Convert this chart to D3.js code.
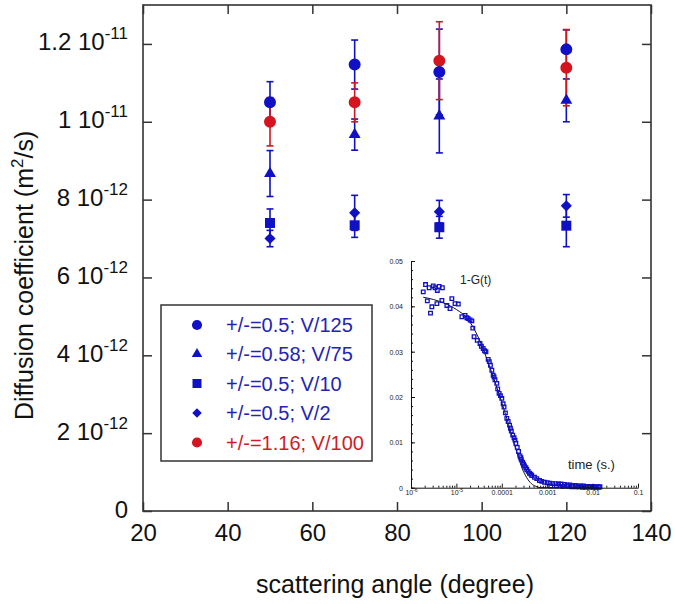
<!DOCTYPE html>
<html><head><meta charset="utf-8">
<script src="https://cdn.jsdelivr.net/npm/d3@7"></script>
<style>body{margin:0;background:#fff}svg{display:block;font-family:"Liberation Sans",Arial,sans-serif}</style>
</head><body><svg id="c" width="675" height="604"></svg>
<script>
// ---------------- data ----------------
const angles=[50,70,90,120];
// diffusion coefficients in units of 1e-12 m^2/s, with error half-widths
const d125=[10.50,11.47,11.28,11.86], e125=[0.53,0.63,1.10,0.50];
const d75=[8.67,9.67,10.15,10.55],   e75=[0.59,0.40,0.95,0.55];
const d10=[7.40,7.34,7.29,7.33],     e10=[0.36,0.31,0.28,0.54];
const d2=[7.00,7.66,7.69,7.84],      e2=[0.21,0.45,0.29,0.29];
const d100=[10.00,10.50,11.57,11.39],e100=[0.62,0.50,1.00,0.98];
const seriesNames=["+/-=0.5; V/125","+/-=0.58; V/75","+/-=0.5; V/10","+/-=0.5; V/2","+/-=1.16; V/100"];
const xTicks=[20,40,60,80,100,120,140];
const yTicks=[0,2,4,6,8,10,12];
const yTickMant=["0","2","4","6","8","1","1.2"];
const yTickExp=["","-12","-12","-12","-12","-11","-11"];

// inset: 1-G(t) correlation data (time in s)
const insetT=[1.86e-6,2.09e-6,2.29e-6,2.51e-6,2.69e-6,2.88e-6,3.09e-6,3.39e-6,3.72e-6,3.80e-6,4.17e-6,4.79e-6,4.90e-6,
6.17e-6,7.24e-6,7.94e-6,9.33e-6,1.10e-5,1.32e-5,1.55e-5,1.82e-5,2.19e-5,2.45e-5,2.88e-5,3.31e-5,3.89e-5,4.47e-5,
5.01e-5,5.62e-5,6.03e-5,6.46e-5,7.08e-5,7.76e-5,8.71e-5,1.00e-4,1.07e-4,1.12e-4,1.20e-4,1.29e-4,1.48e-4,1.62e-4,
1.74e-4,1.95e-4,2.19e-4,2.34e-4,2.51e-4,2.69e-4,2.88e-4,3.16e-4,3.55e-4,4.07e-4,4.57e-4,5.25e-4,5.89e-4,6.76e-4,
7.59e-4,8.71e-4,1.00e-3,1.15e-3,1.32e-3,1.55e-3,1.78e-3,2.04e-3,2.40e-3,2.75e-3,3.16e-3,3.63e-3,4.17e-3,4.79e-3,
5.50e-3,6.31e-3,7.24e-3,8.32e-3,9.55e-3,1.10e-2,1.26e-2,1.45e-2,
1.20e-3,1.60e-3,2.20e-3,2.90e-3,3.50e-3,4.40e-3,5.00e-3,6.00e-3,7.00e-3,8.80e-3,1.05e-2,1.20e-2,1.38e-2,
3.55e-5,4.17e-5,5.30e-5,6.76e-5,8.13e-5,9.33e-5,1.38e-4,1.55e-4,1.86e-4,2.04e-4,2.63e-4,3.02e-4,3.39e-4,3.80e-4,4.37e-4,
1.70e-5,2.00e-5,2.30e-5];
const insetV=[.0432,.0448,.0412,.0441,.0385,.0399,.0445,.0441,.0406,.0435,.0444,.0413,.0441,
.0402,.0395,.0417,.0406,.0405,.0377,.0380,.0373,.0368,.0333,.0325,.0318,.0307,.0300,
.0283,.0270,.0259,.0248,.0238,.0230,.0208,.0197,.0185,.0178,.0165,.0153,.0138,.0125,
.0116,.0105,.0089,.0080,.0070,.0062,.0056,.0048,.0040,.0032,.0027,.0023,.0020,.0016,
.0014,.0012,.0011,.0010,.0009,.0009,.0008,.0008,.0007,.0006,.0006,.0005,.0005,.0004,
.0004,.0004,.0003,.0003,.0003,.0002,.0002,.0002,
.0004,.0004,.0003,.0003,.0002,.0002,.0002,.0001,.0001,.0001,.0001,.0001,.0001,
.0312,.0302,.0278,.0244,.0218,.0203,.0146,.0131,.0110,.0098,.0066,.0052,.0044,.0036,.0030,
.0375,.0370,.0352];
// fitted curve
const fitT=[1.86e-6,3.16e-6,5.62e-6,1.0e-5,1.78e-5,3.16e-5,5.62e-5,1.0e-4,1.41e-4,1.78e-4,2.24e-4,2.82e-4,3.55e-4,4.47e-4,5.62e-4,7.08e-4,1.45e-2];
const fitV=[.0420,.0415,.0406,.0393,.0372,.0328,.0262,.0188,.0140,.0105,.0072,.0042,.0022,.0009,.0003,.0000,.0000];
const insetYTicks=[0,0.01,0.02,0.03,0.04,0.05];
const insetYLabels=["0","0.01","0.02","0.03","0.04","0.05"];
const insetXTicks=[1e-6,1e-5,1e-4,1e-3,1e-2,1e-1];
const insetXMant=["10","10","0.0001","0.001","0.01","0.1"];
const insetXExp=["-6","-5","","","",""];

// ---------------- drawing ----------------
const BLUE="#1010c4", RED="#d4141e", AX="#333";
const svg=d3.select("#c");
const L=143,R=651,T=5,B=511;
const x=d3.scaleLinear([20,140],[L,R]);
const y=d3.scaleLinear([0,13],[B,T]);

const series=[
  {v:d125,e:e125,name:seriesNames[0],color:BLUE,sym:d3.symbolCircle,size:113,lsize:80,rot:0},
  {v:d75,e:e75,name:seriesNames[1],color:BLUE,sym:d3.symbolTriangle,size:62,lsize:48,rot:0},
  {v:d10,e:e10,name:seriesNames[2],color:BLUE,sym:d3.symbolSquare,size:100,lsize:81,rot:0},
  {v:d2,e:e2,name:seriesNames[3],color:BLUE,sym:d3.symbolSquare,size:62,lsize:45,rot:45},
  {v:d100,e:e100,name:seriesNames[4],color:RED,sym:d3.symbolCircle,size:113,lsize:80,rot:0}
];

// inset first (under main frame)
const xi=d3.scaleLog([1e-6,0.1],[411,638]);
const yi=d3.scaleLinear([0,0.05],[487.7,261]);
const gi=svg.append("g");
const fit=d3.line().x((d,i)=>xi(fitT[i])).y((d,i)=>yi(fitV[i])).curve(d3.curveMonotoneX);
gi.append("path").attr("d",fit(fitT)).attr("fill","none").attr("stroke","#111").attr("stroke-width",1);
gi.selectAll("path.pt").data(insetT).join("path").attr("class","pt")
  .attr("transform",(d,i)=>`translate(${xi(d)},${yi(insetV[i])})`)
  .attr("d",d3.symbol(d3.symbolSquare,13)).attr("fill","none").attr("stroke",BLUE).attr("stroke-width",1.3);
// inset axes
const iyAx=gi.append("g").attr("transform","translate(411,0)")
  .call(d3.axisLeft(yi).tickValues(insetYTicks).tickSizeInner(-4).tickSizeOuter(0).tickPadding(8).tickFormat((d,i)=>insetYLabels[i]));
iyAx.append("g").call(d3.axisLeft(yi).tickValues(d3.range(0,0.0501,0.002)).tickSizeInner(-2).tickSizeOuter(0).tickFormat(""))
  .select(".domain").remove();
const ixAx=gi.append("g").attr("transform","translate(0,487.7)")
  .call(d3.axisBottom(xi).tickValues(insetXTicks).tickSizeInner(-4).tickSizeOuter(0).tickPadding(7).tickFormat(""));
ixAx.append("g").call(d3.axisBottom(xi).tickValues(xi.ticks().filter(t=>Math.abs(Math.log10(t)-Math.round(Math.log10(t)))>1e-6)).tickSizeInner(-2).tickSizeOuter(0).tickFormat(""))
  .select(".domain").remove();
[iyAx,ixAx].forEach(g=>{g.selectAll(".domain,line").attr("stroke","#111").attr("stroke-width",1);});
iyAx.selectAll(".tick text").attr("font-size",7).attr("dy",2.5).attr("x",-8).attr("fill","#222").attr("font-family","Liberation Sans, Arial");
ixAx.selectAll(".tick").append("text").attr("y",7.5).attr("text-anchor","middle").attr("font-size",7).attr("fill","#222")
  .each(function(d,i){const t=d3.select(this);t.append("tspan").text(insetXMant[i]);
    if(insetXExp[i]) t.append("tspan").attr("dy",-3).attr("font-size",5).text(insetXExp[i]);});
gi.append("text").attr("x",460).attr("y",284).attr("font-size",12).attr("fill","#222").text("1-G(t)");
gi.append("text").attr("x",568).attr("y",469).attr("font-size",13).attr("fill","#222").text("time (s.)");

// main frame & axes
const gx=svg.append("g").attr("transform",`translate(0,${B})`)
  .call(d3.axisBottom(x).tickValues(xTicks).tickSizeInner(-9).tickSizeOuter(0).tickPadding(30));
gx.selectAll(".tick text").attr("dy",0).attr("font-size",24).attr("fill","#111");
const gxt=svg.append("g").attr("transform",`translate(0,${T})`)
  .call(d3.axisTop(x).tickValues(xTicks).tickSizeInner(-9).tickSizeOuter(0).tickFormat(""));
const gy=svg.append("g").attr("transform",`translate(${L},0)`)
  .call(d3.axisLeft(y).tickValues(yTicks).tickSizeInner(-9).tickSizeOuter(0).tickPadding(15).tickFormat(""));
gy.selectAll(".tick text").attr("dy",6).attr("font-size",24).attr("fill","#111")
  .each(function(d,i){const t=d3.select(this);t.append("tspan").text(yTickMant[i]+(yTickExp[i]?" 10":""));
    if(yTickExp[i]) t.append("tspan").attr("dy",-11).attr("font-size",17).text(yTickExp[i]);});
const gyr=svg.append("g").attr("transform",`translate(${R},0)`)
  .call(d3.axisRight(y).tickValues(yTicks).tickSizeInner(-9).tickSizeOuter(0).tickFormat(""));
[gx,gxt,gy,gyr].forEach(g=>{g.select(".domain").remove();g.selectAll("line").attr("stroke",AX).attr("stroke-width",1.5);g.attr("font-family",null);});
svg.append("rect").attr("x",L).attr("y",T).attr("width",R-L).attr("height",B-T)
  .attr("fill","none").attr("stroke",AX).attr("stroke-width",1.6);

// titles
svg.append("text").attr("x",395).attr("y",593).attr("text-anchor","middle").attr("font-size",25).attr("fill","#111")
  .text("scattering angle (degree)");
const yt=svg.append("text").attr("transform","translate(33,420) rotate(-90)").attr("font-size",25).attr("fill","#111");
yt.append("tspan").text("Diffusion coefficient (m");
yt.append("tspan").attr("dy",-10).attr("font-size",17).text("2");
yt.append("tspan").attr("dy",10).text("/s)");

// error bars
const gm=svg.append("g");
series.forEach(s=>{
  const g=gm.append("g").attr("stroke",s.color).attr("stroke-width",1.6);
  angles.forEach((a,i)=>{
    const xx=x(a),y1=y(s.v[i]-s.e[i]),y2=y(s.v[i]+s.e[i]);
    g.append("line").attr("x1",xx).attr("x2",xx).attr("y1",y1).attr("y2",y2);
    g.append("line").attr("x1",xx-3.5).attr("x2",xx+3.5).attr("y1",y1).attr("y2",y1);
    g.append("line").attr("x1",xx-3.5).attr("x2",xx+3.5).attr("y1",y2).attr("y2",y2);
  });
});
// markers: red first, blue on top
[4,0,1,2,3].forEach(k=>{
  const s=series[k];
  gm.append("g").selectAll("path").data(angles).join("path")
    .attr("transform",(a,i)=>`translate(${x(a)},${y(s.v[i])}) rotate(${s.rot})`)
    .attr("d",d3.symbol(s.sym,s.size)).attr("fill",s.color);
});

// legend
const lg=svg.append("g");
lg.append("rect").attr("x",161).attr("y",305).attr("width",211).attr("height",156)
  .attr("fill","#fff").attr("stroke",AX).attr("stroke-width",1.5);
const rowY=[325,354,383.5,413,442.5];
series.forEach((s,k)=>{
  lg.append("path").attr("transform",`translate(197,${rowY[k]}) rotate(${s.rot})`)
    .attr("d",d3.symbol(s.sym,s.lsize)).attr("fill",s.color);
  lg.append("text").attr("x",226).attr("y",rowY[k]+7).attr("font-size",20).attr("fill",s.color===RED?"#d01c28":"#2424b4").text(s.name);
});
</script></body></html>
